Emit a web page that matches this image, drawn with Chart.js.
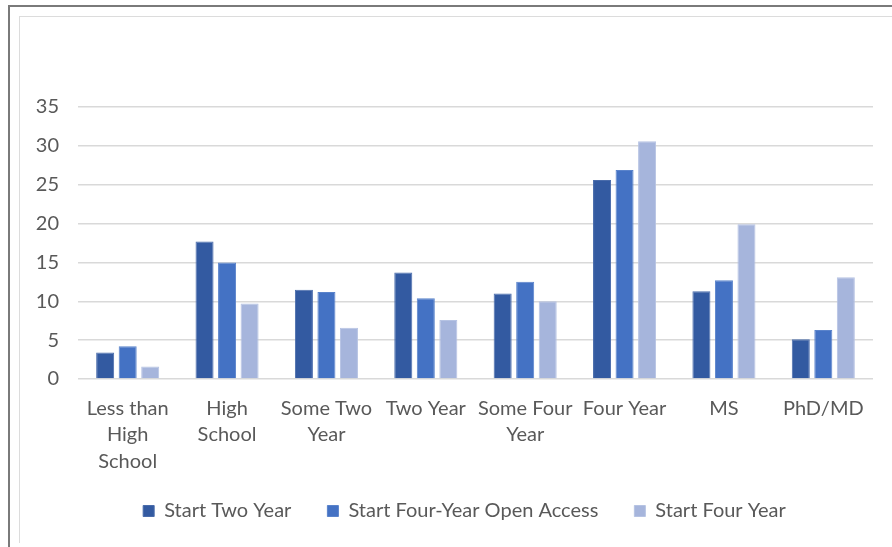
<!DOCTYPE html>
<html>
<head>
<meta charset="utf-8">
<title>Attainment by starting institution</title>
<script src="https://cdn.jsdelivr.net/npm/chart.js@4/dist/chart.umd.min.js"></script>
<style>
    html, body { margin: 0; padding: 0; background: #fff; overflow: hidden; }
    #wrap { position: relative; width: 892px; height: 547px; }
    #outer-frame {
        position: absolute; left: 8px; top: 5px; width: 900px; height: 600px;
        border-left: 2px solid #7a7a7a; border-top: 2px solid #7a7a7a;
    }
    #inner-frame {
        position: absolute; left: 19px; top: 16px; width: 900px; height: 526px;
        border-left: 1px solid #dcdcdc; border-top: 1px solid #dcdcdc;
    }
    canvas { position: absolute; left: 0; top: 0; }
</style>
</head>
<body>
<div id="wrap">
    <div id="outer-frame"></div>
    <div id="inner-frame"></div>
    <canvas id="attainmentChart" width="892" height="547"></canvas>
</div>
<script>
// Education level reached, grouped by where the student started
const categories = [
    ['Less than', 'High', 'School'],
    ['High', 'School'],
    ['Some Two', 'Year'],
    'Two Year',
    ['Some Four', 'Year'],
    'Four Year',
    'MS',
    'PhD/MD'
];
const startTwoYear        = [3.4, 17.7, 11.5, 13.7, 11.0, 25.6, 11.3, 5.1];
const startFourYearOpen   = [4.2, 15.0, 11.2, 10.4, 12.5, 26.9, 12.7, 6.3];
const startFourYear       = [1.6, 9.7, 6.6, 7.6, 10.0, 30.6, 19.9, 13.1];
const yTicks = [0, 5, 10, 15, 20, 25, 30, 35];

const textGray = '#595959';
const fontFamily = 'Lato, "Open Sans", sans-serif';

// move the legend right (under the plot area) and pull it up closer to the axis labels
const legendShift = {
    id: 'legendShift',
    afterLayout(chart) {
        const lg = chart.legend;
        if (lg) {
            lg.left += 18;
            lg.right += 18;
            lg.top -= 14;
            lg.bottom -= 14;
        }
    }
};

document.addEventListener('DOMContentLoaded', function() {
    const ctx = document.getElementById('attainmentChart').getContext('2d');

    new Chart(ctx, {
        type: 'bar',
        data: {
            labels: categories,
            datasets: [
                { label: 'Start Two Year', data: startTwoYear, backgroundColor: '#335aa1', borderColor: '#4a6cab', borderWidth: 1 },
                { label: 'Start Four-Year Open Access', data: startFourYearOpen, backgroundColor: '#4472c4', borderColor: '#5a83cb', borderWidth: 1 },
                { label: 'Start Four Year', data: startFourYear, backgroundColor: '#a6b5dc', borderColor: '#b6c3e3', borderWidth: 1 }
            ]
        },
        plugins: [legendShift],
        options: {
            responsive: false,
            animation: false,
            devicePixelRatio: 1,
            categoryPercentage: 0.68,
            barPercentage: 0.8,
            layout: { padding: { left: 20, right: 19, top: 107, bottom: 2 } },
            plugins: {
                tooltip: { enabled: false },
                legend: {
                    position: 'bottom',
                    labels: {
                        boxWidth: 11,
                        boxHeight: 11,
                        padding: 36,
                        color: textGray,
                        font: { family: fontFamily, size: 20 }
                    }
                }
            },
            scales: {
                x: {
                    grid: { display: false, drawTicks: false },
                    border: { display: false },
                    ticks: {
                        color: textGray,
                        maxRotation: 0,
                        autoSkip: false,
                        padding: 16,
                        font: { family: fontFamily, size: 20, lineHeight: 1.33 }
                    },
                    afterFit: function(scale) { scale.height = 100; }
                },
                y: {
                    min: 0,
                    max: 35,
                    afterBuildTicks: function(scale) {
                        scale.ticks = yTicks.map(v => ({ value: v }));
                    },
                    grid: { color: '#d9d9d9', lineWidth: 1.5, drawTicks: false },
                    border: { display: false },
                    ticks: {
                        color: textGray,
                        padding: 19,
                        font: { family: fontFamily, size: 20 }
                    },
                    afterFit: function(scale) { scale.width = 58; }
                }
            }
        }
    });
});
</script>
</body>
</html>
